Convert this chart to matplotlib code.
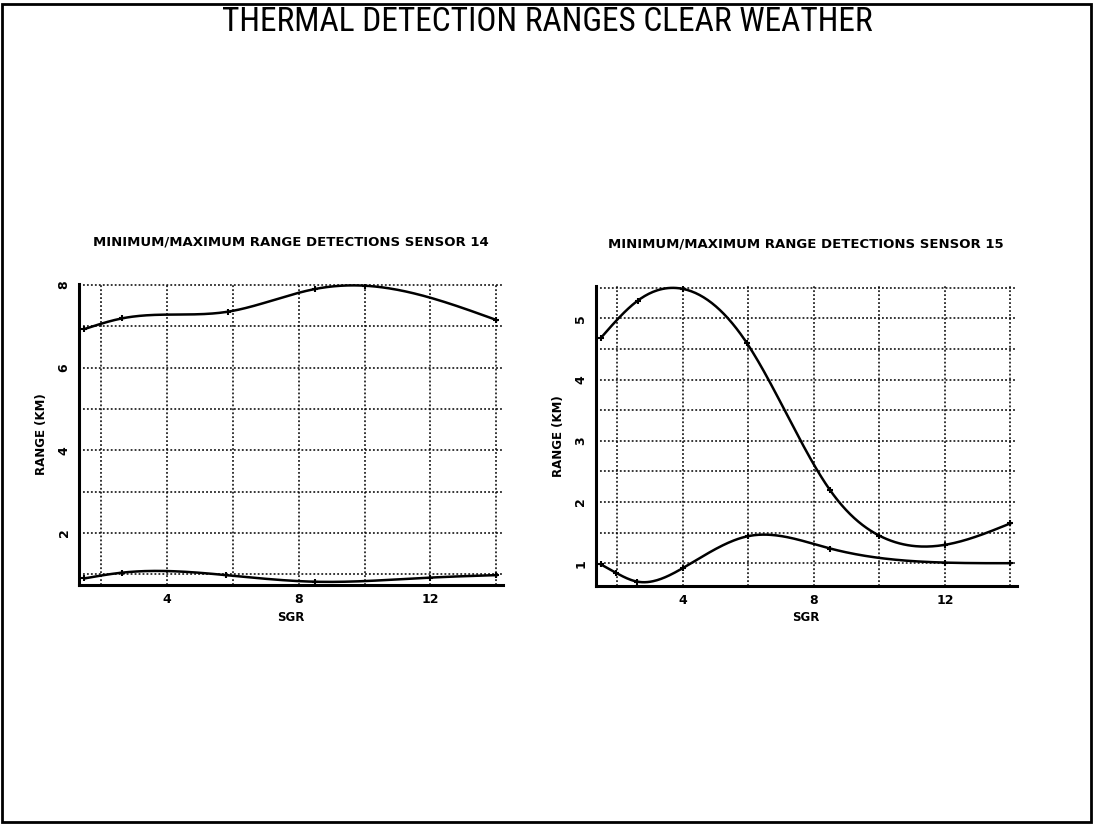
import matplotlib
matplotlib.use("Agg")
import matplotlib.pyplot as plt
import numpy as np
from matplotlib import font_manager

# sensor 14
sgr_14_max = [1.5, 2.65, 5.85, 8.5, 10.0, 14.0]
rng_14_max = [6.93, 7.19, 7.35, 7.90, 7.98, 7.15]
sgr_14_min = [1.5, 2.65, 5.8, 8.5, 12.0, 14.0]
rng_14_min = [0.90, 1.04, 0.98, 0.82, 0.92, 0.98]

# sensor 15
sgr_15_max = [1.5, 2.63, 4.0, 5.95, 8.5, 10.0, 12.0, 14.0]
rng_15_max = [4.68, 5.29, 5.48, 4.60, 2.19, 1.45, 1.30, 1.65]
sgr_15_min = [1.5, 1.97, 2.6, 4.0, 5.98, 8.5, 12.0, 14.0]
rng_15_min = [0.98, 0.84, 0.70, 0.92, 1.44, 1.24, 1.01, 1.00]

x_ticks = [2, 4, 6, 8, 10, 12, 14]
x_labels = ["", "4", "", "8", "", "12", ""]

names = {f.name for f in font_manager.fontManager.ttflist}
title_font = "DejaVu Sans"
for cand in ("Liberation Sans Narrow", "Roboto Condensed", "DejaVu Sans Condensed", "Open Sans Condensed"):
    if cand in names:
        title_font = cand
        break


def natural_spline(x, y, n=300):
    # plain natural cubic spline, only used to draw the smooth curve
    x = np.asarray(x, float)
    y = np.asarray(y, float)
    h = np.diff(x)
    m = len(x)
    A = np.zeros((m, m))
    b = np.zeros(m)
    A[0, 0] = A[-1, -1] = 1.0
    for i in range(1, m - 1):
        A[i, i - 1] = h[i - 1]
        A[i, i] = 2 * (h[i - 1] + h[i])
        A[i, i + 1] = h[i]
        b[i] = 3 * ((y[i + 1] - y[i]) / h[i] - (y[i] - y[i - 1]) / h[i - 1])
    c = np.linalg.solve(A, b)
    xs = np.linspace(x[0], x[-1], n)
    idx = np.clip(np.searchsorted(x, xs) - 1, 0, m - 2)
    dx = xs - x[idx]
    bb = (y[idx + 1] - y[idx]) / h[idx] - h[idx] * (2 * c[idx] + c[idx + 1]) / 3
    d = (c[idx + 1] - c[idx]) / (3 * h[idx])
    ys = y[idx] + bb * dx + c[idx] * dx ** 2 + d * dx ** 3
    return xs, ys


fig = plt.figure(figsize=(10.94, 8.24), dpi=100)

# page frame
fig.patches.append(plt.Rectangle((0.002, 0.003), 0.995, 0.992, transform=fig.transFigure,
                                 fill=False, edgecolor="black", linewidth=2))

title = fig.text(0.5, 0.9735, "THERMAL DETECTION RANGES CLEAR WEATHER", ha="center", va="center",
                 fontsize=22, family=title_font, color="black")
# fit the title to the width it has in the original (about 668 px)
renderer = fig.canvas.get_renderer()
w = title.get_window_extent(renderer).width
title.set_fontsize(min(24, 22 * 668 / w))


def panel(rect, series, ylim, yticks, ylabels, title):
    ax = fig.add_axes(rect)
    for xs_, ys_ in series:
        sx, sy = natural_spline(xs_, ys_)
        ax.plot(sx, sy, color="black", linewidth=1.8)
        ax.plot(xs_, ys_, linestyle="none", marker="+", markersize=5,
                markeredgewidth=1.5, color="black")
    ax.set_xlim(1.34, 14.2)
    ax.set_ylim(*ylim)
    ax.set_xticks(x_ticks)
    ax.set_xticklabels(x_labels, fontsize=9, fontweight="bold")
    ax.set_yticks(yticks)
    ax.set_yticklabels(ylabels, fontsize=9, fontweight="bold", rotation=90, va="center")
    ax.tick_params(length=0, pad=6)
    ax.grid(True, linestyle=(0, (1.2, 1.4)), color="black", linewidth=1.1)
    for s in ("top", "right"):
        ax.spines[s].set_visible(False)
    for s in ("left", "bottom"):
        ax.spines[s].set_linewidth(2.2)
    ax.set_xlabel("SGR", fontsize=8.5, fontweight="bold", labelpad=3)
    ax.set_ylabel("RANGE (KM)", fontsize=8.5, fontweight="bold", labelpad=7)
    ax.set_title(title, fontsize=9.5, fontweight="bold", pad=28)
    return ax


panel([0.0722, 0.290, 0.3876, 0.3653],
      [(sgr_14_max, rng_14_max), (sgr_14_min, rng_14_min)],
      (0.74, 8.02), [1, 2, 3, 4, 5, 6, 7, 8],
      ["", "2", "", "4", "", "6", "", "8"],
      "MINIMUM/MAXIMUM RANGE DETECTIONS SENSOR 14")

panel([0.5445, 0.289, 0.385, 0.3634],
      [(sgr_15_max, rng_15_max), (sgr_15_min, rng_15_min)],
      (0.63, 5.52), [1, 1.5, 2, 2.5, 3, 3.5, 4, 4.5, 5, 5.5],
      ["1", "", "2", "", "3", "", "4", "", "5", ""],
      "MINIMUM/MAXIMUM RANGE DETECTIONS SENSOR 15")

fig.savefig("out.png", dpi=100, facecolor="white")
